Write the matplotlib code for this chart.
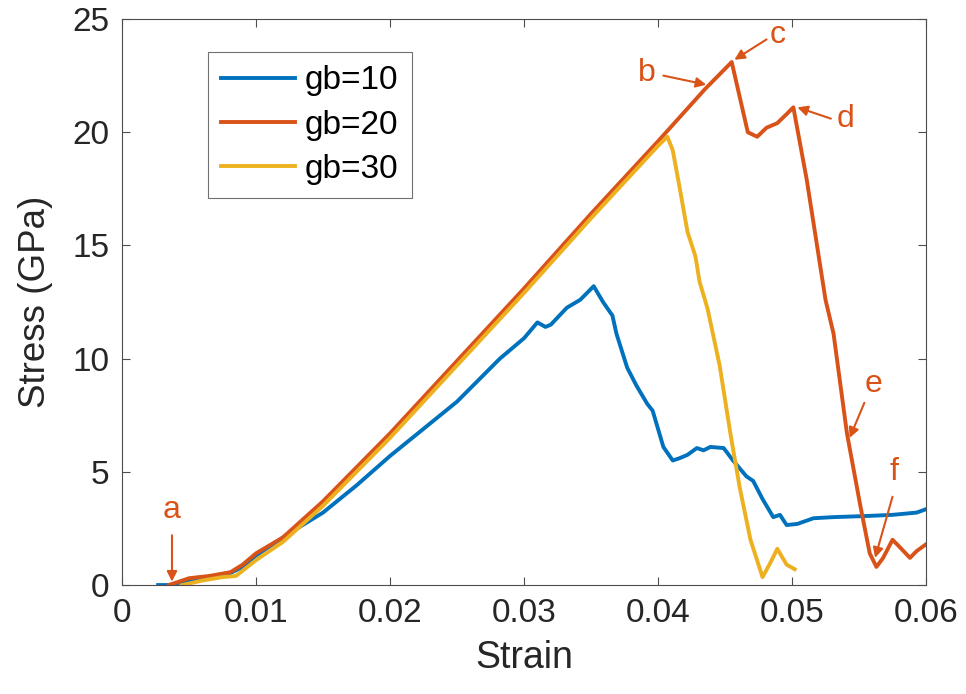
import matplotlib
matplotlib.use("Agg")
import matplotlib.pyplot as plt

# strain / stress data (GPa)
strain_10 = [0.0027, 0.0035, 0.005, 0.0065, 0.008, 0.009, 0.010, 0.0115, 0.0128, 0.015, 0.0175,
             0.020, 0.0225, 0.025, 0.0282, 0.0300, 0.0310, 0.0316, 0.0320, 0.0332, 0.0342, 0.0352,
             0.0359, 0.0366, 0.0369, 0.0377, 0.0384, 0.0392, 0.0396, 0.0404, 0.0411, 0.0416,
             0.0422, 0.0429, 0.0434, 0.0439, 0.0449, 0.0456, 0.0466, 0.0471, 0.0478, 0.0486,
             0.0491, 0.0496, 0.0504, 0.0516, 0.0531, 0.0556, 0.0575, 0.0593, 0.0600]
stress_10 = [0.0, 0.0, 0.2, 0.35, 0.5, 0.8, 1.3, 1.9, 2.4, 3.2, 4.4,
             5.7, 6.9, 8.1, 10.0, 10.9, 11.6, 11.4, 11.5, 12.25, 12.6, 13.2,
             12.5, 11.9, 11.1, 9.6, 8.8, 8.0, 7.7, 6.1, 5.5, 5.6,
             5.75, 6.05, 5.95, 6.1, 6.05, 5.5, 4.8, 4.6, 3.8, 3.0,
             3.1, 2.65, 2.7, 2.95, 3.0, 3.05, 3.1, 3.2, 3.35]

strain_20 = [0.0035, 0.005, 0.0065, 0.0081, 0.009, 0.010, 0.012, 0.015, 0.0175, 0.020, 0.025,
             0.030, 0.035, 0.040, 0.0435, 0.0455, 0.0467, 0.0474, 0.0481, 0.0489, 0.0496,
             0.0501, 0.0511, 0.0525, 0.0531, 0.0541, 0.0551, 0.0558, 0.0563, 0.0568, 0.0575,
             0.0580, 0.0588, 0.0593, 0.0600]
stress_20 = [0.0, 0.3, 0.4, 0.57, 0.9, 1.4, 2.1, 3.7, 5.2, 6.7, 9.9,
             13.1, 16.4, 19.6, 21.9, 23.1, 20.0, 19.8, 20.2, 20.4, 20.8,
             21.1, 17.9, 12.6, 11.1, 6.7, 3.5, 1.4, 0.8, 1.2, 2.0,
             1.7, 1.2, 1.5, 1.8]

strain_30 = [0.0045, 0.006, 0.0075, 0.0085, 0.010, 0.012, 0.015, 0.0175, 0.020, 0.025, 0.030,
             0.035, 0.040, 0.0407, 0.0411, 0.0416, 0.0422, 0.0428, 0.0431, 0.0437, 0.0446,
             0.0454, 0.0461, 0.0469, 0.0478, 0.0484, 0.0489, 0.0496, 0.0502]
stress_30 = [0.0, 0.2, 0.35, 0.4, 1.1, 1.9, 3.5, 5.0, 6.5, 9.7,
             12.9, 16.2, 19.4, 19.8, 19.2, 17.6, 15.6, 14.5, 13.4, 12.2, 9.7,
             6.7, 4.3, 2.0, 0.35, 1.0, 1.6, 0.9, 0.7]

labels = ["gb=10", "gb=20", "gb=30"]
colors = ["#0072BD", "#D95319", "#EDB120"]

# point labels on the gb=20 curve: text, text pos, arrow tail, arrow tip
mark_text = ["a", "b", "c", "d", "e", "f"]
mark_pos = [(0.00373, 3.3), (0.0392, 22.6), (0.0489, 24.3), (0.0540, 20.6),
            (0.0561, 8.9), (0.0576, 5.0)]
arrow_tail = [(0.00373, 2.2), (0.0404, 22.5), (0.0481, 24.1), (0.0529, 20.6),
              (0.0554, 8.05), (0.0575, 3.9)]
arrow_tip = [(0.00373, 0.15), (0.0436, 22.1), (0.0457, 23.2), (0.0504, 21.1),
             (0.0543, 6.5), (0.0562, 1.2)]

plt.rcParams["font.family"] = ["Liberation Sans", "DejaVu Sans"]

fig = plt.figure(figsize=(9.66, 6.94), dpi=100)
ax = fig.add_axes([0.1263, 0.157, 0.8323, 0.8156])

for xs, ys, lab, col in zip([strain_10, strain_20, strain_30],
                            [stress_10, stress_20, stress_30], labels, colors):
    ax.plot(xs, ys, color=col, lw=2.8, label=lab)

for txt, tpos, tail, tip in zip(mark_text, mark_pos, arrow_tail, arrow_tip):
    ax.text(tpos[0], tpos[1], txt, color="#D95319", fontsize=23,
            ha="center", va="center")
    ax.annotate("", xy=tip, xytext=tail,
                arrowprops=dict(arrowstyle="-|>", color="#D95319", lw=1.5,
                                mutation_scale=15, shrinkA=0, shrinkB=0))

ax.set_xlim(0, 0.06)
ax.set_ylim(0, 25)
ax.set_xticks([0, 0.01, 0.02, 0.03, 0.04, 0.05, 0.06])
ax.set_xticklabels(["0", "0.01", "0.02", "0.03", "0.04", "0.05", "0.06"])
ax.set_yticks([0, 5, 10, 15, 20, 25])
ax.tick_params(direction="in", top=True, right=True, length=6, width=0.8,
               labelsize=24, labelcolor="#262626", color="#4d4d4d", pad=9)
for s in ax.spines.values():
    s.set_color("#4d4d4d")
    s.set_linewidth(0.8)

ax.set_xlabel("Strain", fontsize=27, color="#262626", labelpad=8)
ax.set_ylabel("Stress (GPa)", fontsize=26.5, color="#262626", labelpad=14)

leg = ax.legend(loc="upper left", bbox_to_anchor=(0.107, 0.942), fontsize=24,
                frameon=True, fancybox=False, handlelength=2.2, handletextpad=0.3,
                borderpad=0.4, labelspacing=0.4, borderaxespad=0)
leg.get_frame().set_edgecolor("#4d4d4d")
leg.get_frame().set_linewidth(0.8)

fig.savefig("out.png", dpi=100)
